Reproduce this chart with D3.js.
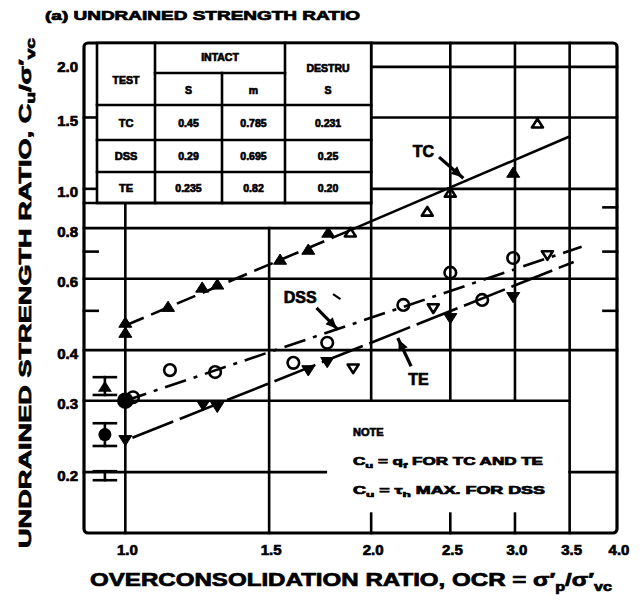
<!DOCTYPE html>
<html><head><meta charset="utf-8">
<script src="https://cdn.jsdelivr.net/npm/d3@7/dist/d3.min.js"></script>
<style>
html,body{margin:0;padding:0;background:#fff;}
svg{display:block;}
text{font-family:"Liberation Sans",Arial,Helvetica,sans-serif;font-weight:bold;fill:#000;stroke:#000;stroke-width:0.7px;}
</style></head><body>
<svg id="chart" width="644" height="601"></svg>
<script>
// ---- axis ticks ----
const xTickValues = [1.0, 1.5, 2.0, 2.5, 3.0, 3.5, 4.0];
const xTickLabels = ["1.0", "1.5", "2.0", "2.5", "3.0", "3.5", "4.0"];
const yTickValues = [2.0, 1.5, 1.0, 0.8, 0.6, 0.4, 0.3, 0.2];
const yTickLabels = ["2.0", "1.5", "1.0", "0.8", "0.6", "0.4", "0.3", "0.2"];

// ---- TC: triaxial compression (triangles) ----
const tcFilledOCR = [1.0, 1.0, 1.128, 1.242, 1.296, 1.547, 1.675, 1.772, 2.985];
const tcFilledSu  = [0.467, 0.441, 0.511, 0.570, 0.580, 0.668, 0.707, 0.779, 1.095];
const tcOpenOCR   = [1.886, 2.343, 2.50, 3.196];
const tcOpenSu    = [0.779, 0.877, 0.977, 1.447];

// ---- DSS: direct simple shear (circles) ----
const dssFilledOCR = [1.0];
const dssFilledSu  = [0.30];
const dssOpenOCR   = [1.022, 1.134, 1.288, 1.606, 1.767, 2.19, 2.50, 2.735, 2.985];
const dssOpenSu    = [0.306, 0.357, 0.353, 0.372, 0.417, 0.517, 0.621, 0.532, 0.675];

// ---- TE: triaxial extension (inverted triangles) ----
const teFilledOCR = [1.0, 1.245, 1.296, 1.675, 1.767, 2.50, 2.985];
const teFilledSu  = [0.240, 0.293, 0.290, 0.357, 0.374, 0.480, 0.541];
const teOpenOCR   = [1.901, 2.383, 3.287];
const teOpenSu    = [0.361, 0.508, 0.687];

// ---- fitted lines (end points) ----
const tcFitDashOCR  = [1.0, 1.89];
const tcFitDashSu   = [0.46, 0.792];
const tcFitSolidOCR = [1.89, 3.51];
const tcFitSolidSu  = [0.792, 1.35];
const dssFitOCR = [1.0, 3.62];
const dssFitSu  = [0.30, 0.72];
const teFitOCR  = [1.02, 3.54];
const teFitSu   = [0.243, 0.66];

// ---- ranges of destructured values at OCR = 1 ----
const rangeSymbols = ["tri", "circle", "invtri"];
const rangeLow  = [0.310, 0.232, 0.191];
const rangeHigh = [0.343, 0.264, 0.201];

// ---- parameter table ----
const tableTests   = ["TC", "DSS", "TE"];
const tableIntactS = ["0.45", "0.29", "0.235"];
const tableIntactM = ["0.785", "0.695", "0.82"];
const tableDestruS = ["0.231", "0.25", "0.20"];

const svg = d3.select("#chart");
const x = d3.scaleLog().domain([0.89, 4.0]).range([84, 617]);
const y = d3.scaleLog().domain([0.1415, 2.29]).range([533, 43]);
const [X0, X1] = x.range();
const [Y0, Y1] = y.range();
const LW = 2.6;

const g = svg.append("g");
const line = (x1, y1, x2, y2, w = LW) => g.append("line")
  .attr("x1", x1).attr("y1", y1).attr("x2", x2).attr("y2", y2)
  .attr("stroke", "#000").attr("stroke-width", w).attr("stroke-linecap", "square");

// ---- grid: horizontal lines with their extents ----
const hGrid = [
  { v: 2.0, a: 2.0, b: 4.0 }, { v: 1.5, a: 2.0, b: 4.0 }, { v: 1.0, a: 2.0, b: 4.0 },
  { v: 0.8, a: 0.89, b: 4.0 }, { v: 0.6, a: 0.89, b: 4.0 }, { v: 0.4, a: 0.89, b: 4.0 },
  { v: 0.3, a: 0.89, b: 3.5 }, { v: 0.2, a: 0.89, b: 1.76 }, { v: 0.2, a: 3.5, b: 4.0 }
];
hGrid.forEach(d => line(x(d.a), y(d.v), x(d.b), y(d.v)));
// short ticks
[0.9, 0.7, 0.5].forEach(v => line(x(3.85), y(v), X1, y(v)));
[1.5, 1.0, 0.7, 0.5].forEach(v => line(X0, y(v), x(0.925), y(v)));

// ---- grid: vertical lines ----
const vGrid = [
  { v: 1.0, a: 0.1415, b: 0.923 }, { v: 1.5, a: 0.1415, b: 0.8 },
  { v: 2.0, a: 0.3, b: 2.29 }, { v: 2.5, a: 0.3, b: 2.29 }, { v: 3.0, a: 0.3, b: 2.29 },
  { v: 3.5, a: 0.1415, b: 2.29 }
];
vGrid.forEach(d => line(x(d.v), y(d.a), x(d.v), y(d.b)));
[2.0, 2.5, 3.0].forEach(v => line(x(v), Y0, x(v), y(0.158)));

// ---- frame ----
g.append("rect").attr("x", X0).attr("y", Y1).attr("width", X1 - X0).attr("height", Y0 - Y1)
  .attr("rx", 4).attr("fill", "none").attr("stroke", "#000").attr("stroke-width", 3.2);

// ---- parameter table ----
const tc = [97, 155, 222, 285, x(2.0)];
const tr = [Y1, 73, 105, 140, 172, 203];
g.append("rect").attr("x", tc[0]).attr("y", tr[0]).attr("width", tc[4] - tc[0]).attr("height", tr[5] - tr[0])
  .attr("fill", "#fff").attr("stroke", "#000").attr("stroke-width", LW);
line(X0, tr[5], tc[4], tr[5]);
line(tc[1], tr[0], tc[1], tr[5]);
line(tc[3], tr[0], tc[3], tr[5]);
line(tc[2], tr[1], tc[2], tr[5]);
line(tc[1], tr[1], tc[3], tr[1]);
[tr[2], tr[3], tr[4]].forEach(v => line(tc[0], v, tc[4], v));
const cell = (txt, cx, cy, size = 10.5) => g.append("text").attr("x", cx).attr("y", cy)
  .attr("text-anchor", "middle").attr("dominant-baseline", "central").attr("font-size", size).text(txt);
cell("TEST", (tc[0] + tc[1]) / 2, 80);
cell("INTACT", (tc[1] + tc[3]) / 2, 57);
cell("S", (tc[1] + tc[2]) / 2, 90);
cell("m", (tc[2] + tc[3]) / 2, 90);
cell("DESTRU", (tc[3] + tc[4]) / 2, 68);
cell("S", (tc[3] + tc[4]) / 2, 90);
tableTests.forEach((t, i) => {
  const cy = (tr[i + 2] + tr[i + 3]) / 2;
  cell(t, (tc[0] + tc[1]) / 2, cy, 11);
  cell(tableIntactS[i], (tc[1] + tc[2]) / 2, cy);
  cell(tableIntactM[i], (tc[2] + tc[3]) / 2, cy);
  cell(tableDestruS[i], (tc[3] + tc[4]) / 2, cy);
});

// ---- fitted lines ----
const pathLine = d3.line().x(d => x(d[0])).y(d => y(d[1]));
const fit = (xs, ys, dash) => g.append("path").attr("d", pathLine(d3.zip(xs, ys)))
  .attr("fill", "none").attr("stroke", "#000").attr("stroke-width", 2.6)
  .attr("stroke-dasharray", dash || null);
fit(tcFitDashOCR, tcFitDashSu, "20,8");
fit(tcFitSolidOCR, tcFitSolidSu);
fit(dssFitOCR, dssFitSu, "22,8,4,8");
fit(teFitOCR, teFitSu, "44,7");

// ---- markers ----
const triPath = (s, dir) => {
  const h = s * 0.9;
  return dir > 0
    ? `M0,${-h} L${s},${h * 0.75} L${-s},${h * 0.75} Z`
    : `M0,${h} L${s},${-h * 0.75} L${-s},${-h * 0.75} Z`;
};
const drawTri = (xs, ys, dir, filled) => d3.zip(xs, ys).forEach(([a, b]) => {
  g.append("path").attr("d", triPath(filled ? 6.5 : 5.5, dir))
    .attr("transform", `translate(${x(a)},${y(b)})`)
    .attr("fill", filled ? "#000" : "none").attr("stroke", "#000")
    .attr("stroke-width", filled ? 1 : 2.6).attr("stroke-linejoin", "round");
});
const drawCirc = (xs, ys, filled) => d3.zip(xs, ys).forEach(([a, b]) => {
  g.append("circle").attr("cx", x(a)).attr("cy", y(b)).attr("r", filled ? 7 : 5.8)
    .attr("fill", filled ? "#000" : "none").attr("stroke", "#000").attr("stroke-width", 2.6);
});
drawTri(tcOpenOCR, tcOpenSu, 1, false);
drawTri(tcFilledOCR, tcFilledSu, 1, true);
drawCirc(dssOpenOCR, dssOpenSu, false);
drawCirc(dssFilledOCR, dssFilledSu, true);
drawTri(teOpenOCR, teOpenSu, -1, false);
drawTri(teFilledOCR, teFilledSu, -1, true);

// ---- range bars at OCR = 1 ----
const rx = x(0.944);
rangeSymbols.forEach((s, i) => {
  const yl = y(rangeLow[i]), yh = y(rangeHigh[i]), ym = (yl + yh) / 2;
  line(rx - 11, yh, rx + 11, yh, 2.6);
  line(rx - 11, yl, rx + 11, yl, 2.6);
  line(rx, yh, rx, yl, 2.6);
  if (s === "circle") g.append("circle").attr("cx", rx).attr("cy", ym).attr("r", 6.5).attr("fill", "#000");
  if (s === "tri") g.append("path").attr("d", triPath(7, 1)).attr("transform", `translate(${rx},${ym + 1})`).attr("fill", "#000");
});

// ---- curve labels and arrows ----
const arrow = (a, b, c, d) => {
  const x1 = x(a), y1 = y(b), x2 = x(c), y2 = y(d);
  line(x1, y1, x2, y2, 3.2);
  const ang = Math.atan2(y2 - y1, x2 - x1);
  const L = 11, W = 5;
  const p = [[x2, y2],
    [x2 - L * Math.cos(ang) + W * Math.sin(ang), y2 - L * Math.sin(ang) - W * Math.cos(ang)],
    [x2 - L * Math.cos(ang) - W * Math.sin(ang), y2 - L * Math.sin(ang) + W * Math.cos(ang)]];
  g.append("path").attr("d", "M" + p.join("L") + "Z").attr("fill", "#000");
};
const lab = (t, a, b) => g.append("text").attr("x", x(a)).attr("y", y(b))
  .attr("text-anchor", "middle").attr("dominant-baseline", "central").attr("font-size", 16).text(t);
lab("TC", 2.317, 1.234);
arrow(2.43, 1.19, 2.585, 1.068);
lab("DSS", 1.637, 0.538);
arrow(1.72, 0.505, 1.815, 0.452);
line(x(1.80), y(0.548), x(1.83), y(0.536), 2);
lab("TE", 2.285, 0.338);
arrow(2.234, 0.368, 2.16, 0.425);

// ---- note ----
const nx = x(1.9);
const note = g.append("g");
note.append("text").attr("x", nx).attr("y", y(0.245)).attr("font-size", 11).text("NOTE");
const n1 = note.append("text").attr("x", nx).attr("y", y(0.208)).attr("font-size", 10.5)
  .attr("textLength", 190).attr("lengthAdjust", "spacingAndGlyphs");
n1.append("tspan").text("C");
n1.append("tspan").attr("dy", 3).attr("font-size", 8).text("u");
n1.append("tspan").attr("dy", -3).text(" = q");
n1.append("tspan").attr("dy", 3).attr("font-size", 8).text("f");
n1.append("tspan").attr("dy", -3).text("  FOR TC AND TE");
const n2 = note.append("text").attr("x", nx).attr("y", y(0.177)).attr("font-size", 10.5)
  .attr("textLength", 192).attr("lengthAdjust", "spacingAndGlyphs");
n2.append("tspan").text("C");
n2.append("tspan").attr("dy", 3).attr("font-size", 8).text("u");
n2.append("tspan").attr("dy", -3).text(" = τ");
n2.append("tspan").attr("dy", 3).attr("font-size", 8).text("h");
n2.append("tspan").attr("dy", -3).text(" MAX. FOR DSS");

// ---- tick labels ----
xTickValues.forEach((v, i) => g.append("text").attr("x", x(v) + 2).attr("y", 555)
  .attr("text-anchor", "middle").attr("font-size", 15).text(xTickLabels[i]));
yTickValues.forEach((v, i) => g.append("text").attr("x", 78).attr("y", y(v) + (v === 2.0 ? 0 : 3))
  .attr("text-anchor", "end").attr("dominant-baseline", "central").attr("font-size", 15).text(yTickLabels[i]));

// ---- axis titles ----
const xt = g.append("text").attr("x", 90).attr("y", 586).attr("font-size", 18)
  .attr("textLength", 522).attr("lengthAdjust", "spacingAndGlyphs");
xt.append("tspan").text("OVERCONSOLIDATION RATIO, OCR = σ′");
xt.append("tspan").attr("dy", 5).attr("font-size", 12).text("p");
xt.append("tspan").attr("dy", -5).text("/σ′");
xt.append("tspan").attr("dy", 5).attr("font-size", 12).text("vc");

const yt = g.append("text").attr("transform", "translate(31,548) rotate(-90)").attr("font-size", 17)
  .attr("textLength", 510).attr("lengthAdjust", "spacingAndGlyphs");
yt.append("tspan").text("UNDRAINED STRENGTH RATIO, C");
yt.append("tspan").attr("dy", 4).attr("font-size", 12).text("u");
yt.append("tspan").attr("dy", -4).text("/σ′");
yt.append("tspan").attr("dy", 4).attr("font-size", 12).text("vc");

// ---- panel title ----
g.append("text").attr("x", 45).attr("y", 20).attr("font-size", 12.5)
  .attr("textLength", 315).attr("lengthAdjust", "spacingAndGlyphs")
  .text("(a) UNDRAINED STRENGTH RATIO");
</script>
</body></html>
